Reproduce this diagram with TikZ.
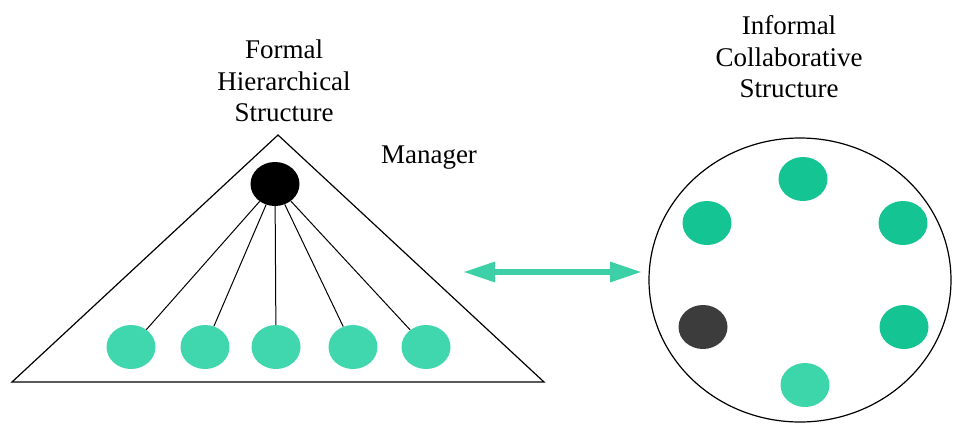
\documentclass[tikz,border=0pt]{standalone}
\usepackage{fontspec}
\setmainfont{Liberation Serif}
\usetikzlibrary{arrows.meta,shapes.geometric}
\definecolor{gA}{HTML}{40D6AE}
\definecolor{gB}{HTML}{15C493}
\definecolor{gC}{HTML}{3DD5AA}
\definecolor{dk}{HTML}{3C3C3C}
\definecolor{arr}{HTML}{3DD0A6}
\begin{document}
\begin{tikzpicture}[x=1pt,y=-1pt,
  lbl/.style={font=\fontsize{27}{31.5}\selectfont, align=center, inner sep=0pt},
  dot/.style={ellipse, minimum width=49pt, minimum height=44pt, inner sep=0pt},
  link/.style={draw=black, line width=1pt}]
\useasboundingbox (0,0) rectangle (953,423);
% left: formal hierarchy
\coordinate (tl) at (12,382);
\coordinate (tt) at (278,135);
\coordinate (tr) at (544,382);
\draw[line width=1.2pt, line join=miter] (tl) -- (tt) -- (tr) -- cycle;
\node[lbl] (formal) at (284,81) {Formal\\Hierarchical\\Structure};
\node[lbl] (mgrlbl) at (429,158) {Manager};
\node[dot, fill=black] (mgr) at (275,184) {};
\foreach \i/\x in {1/131,2/205,3/276,4/353,5/426}{
  \node[dot, fill=gA] (w\i) at (\x,347) {};
  \draw[link] (mgr) -- (w\i);
}
% right: informal collaboration
\node[lbl] (informal) at (789,57) {Informal\\Collaborative\\Structure};
\node[draw=black, line width=1.2pt, ellipse, minimum width=302pt, minimum height=284pt, inner sep=0pt] (circ) at (800,280) {};
\node[dot, fill=gB] (c1) at (803,179) {};
\node[dot, fill=gB] (c2) at (707,223) {};
\node[dot, fill=gB] (c3) at (903,223) {};
\node[dot, fill=dk] (c4) at (703,327) {};
\node[dot, fill=gB] (c5) at (904,327) {};
\node[dot, fill=gC] (c6) at (805,385) {};
% double arrow
\coordinate (aL) at (463,272);
\coordinate (aR) at (642,272);
\draw[arr, line width=6pt, {Triangle[length=32pt,width=19pt]}-{Triangle[length=32pt,width=19pt]}] (aL) -- (aR);
\end{tikzpicture}
\end{document}
